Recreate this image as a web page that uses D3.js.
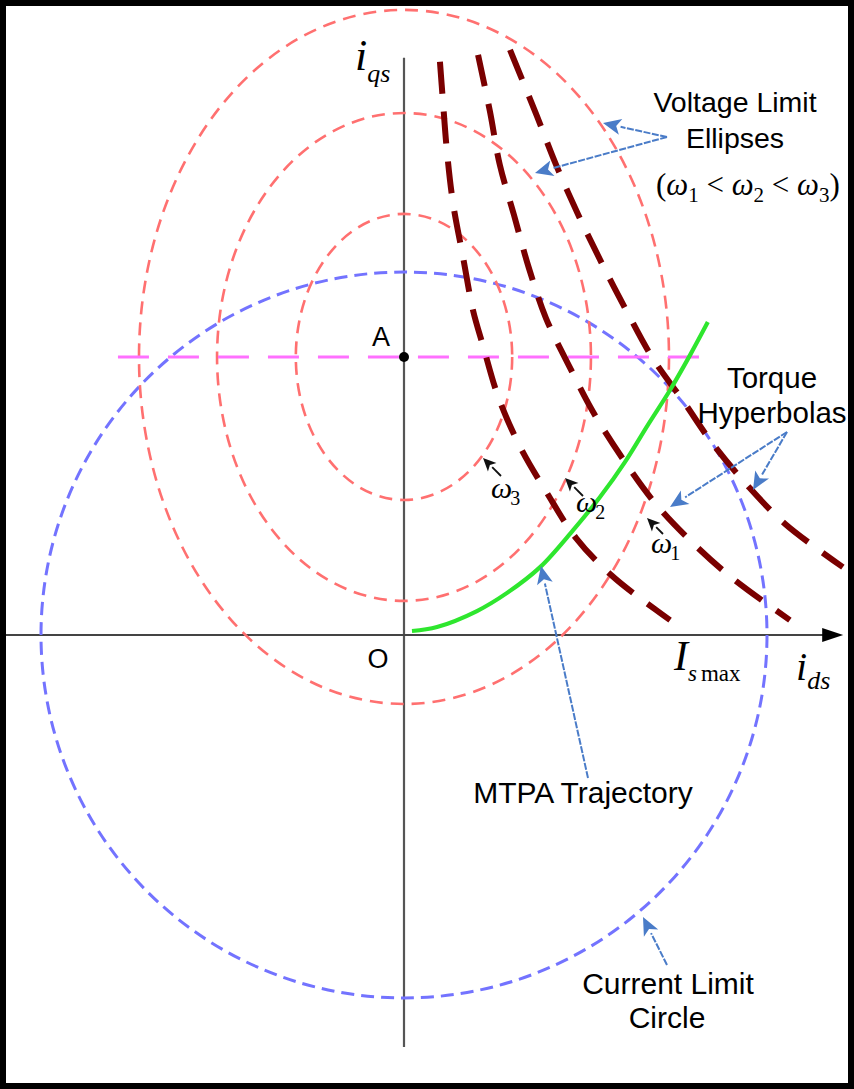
<!DOCTYPE html>
<html><head><meta charset="utf-8">
<script src="https://cdn.jsdelivr.net/npm/d3@7"></script>
<style>body{margin:0;background:#fff}svg{display:block}</style>
</head><body>
<svg id="chart" width="854" height="1089"></svg>
<script>
// Current-vector plane of a PM motor, per-unit (Is_max = 1)
// horizontal: i_ds, vertical: i_qs

const currentLimitRadius = 1.0;

// Voltage limit ellipses, centred on point A, innermost (ω3) to outermost (ω1)
const ellipseCenter = [0, 0.766];
const ellipseSemiD = [0.298, 0.515, 0.730];
const ellipseSemiQ = [0.394, 0.672, 0.956];

// Constant-torque curves (id, iq), low to high torque
const torqueLow = [[0.099,1.579],[0.107,1.474],[0.118,1.336],[0.135,1.190],[0.163,1.039],[0.190,0.895],[0.218,0.796],[0.259,0.658],[0.320,0.518],[0.394,0.391],[0.474,0.267],[0.573,0.163],[0.694,0.069],[0.733,0.041]];
const torqueMid = [[0.204,1.598],[0.237,1.441],[0.264,1.295],[0.303,1.157],[0.344,1.011],[0.391,0.873],[0.455,0.741],[0.521,0.614],[0.603,0.485],[0.691,0.364],[0.793,0.256],[0.904,0.157],[1.063,0.041]];
const torqueHigh = [[0.292,1.612],[0.366,1.430],[0.419,1.295],[0.479,1.160],[0.543,1.028],[0.612,0.895],[0.683,0.766],[0.771,0.642],[0.851,0.526],[0.948,0.410],[1.050,0.306],[1.209,0.187]];

// Maximum torque per ampere trajectory
const mtpaId = [0.022,0.091,0.201,0.284,0.375,0.466,0.540,0.609,0.672,0.733,0.788,0.837];
const mtpaIq = [0.011,0.022,0.066,0.116,0.187,0.289,0.380,0.477,0.579,0.675,0.771,0.862];

// Extent of the dashed line through A
const lineAExtent = [-0.788, 0.837];

// ---- layout ----
const W = 854, H = 1089;
const ox = 404, oy = 635, unit = 363;
const x = d3.scaleLinear().domain([0, 1]).range([ox, ox + unit]);
const y = d3.scaleLinear().domain([0, 1]).range([oy, oy - unit]);

const svg = d3.select("#chart");
const sans = "'Liberation Sans', Arial, sans-serif";
const serif = "'Liberation Serif', 'Times New Roman', serif";

svg.append("rect").attr("width", W).attr("height", H).attr("fill", "#fff");

// axes
svg.append("line")
  .attr("x1", x(0)).attr("x2", x(0))
  .attr("y1", y(1.590)).attr("y2", y(-1.135))
  .attr("stroke", "#555").attr("stroke-width", 2.2);
svg.append("line")
  .attr("x1", x(-1.12)).attr("x2", x(1.158))
  .attr("y1", y(0)).attr("y2", y(0))
  .attr("stroke", "#444").attr("stroke-width", 2.2);
svg.append("path")
  .attr("d", `M${x(1.152)},${y(0) - 7}L${x(1.21)},${y(0)}L${x(1.152)},${y(0) + 7}Z`)
  .attr("fill", "#000");

// current limit circle
svg.append("circle")
  .attr("cx", x(0)).attr("cy", y(0))
  .attr("r", x(currentLimitRadius) - x(0))
  .attr("fill", "none").attr("stroke", "#7373ff")
  .attr("stroke-width", 3).attr("stroke-dasharray", "13,7");

// voltage limit ellipses
svg.selectAll("ellipse.vl").data(ellipseSemiD).join("ellipse")
  .attr("class", "vl")
  .attr("cx", x(ellipseCenter[0])).attr("cy", y(ellipseCenter[1]))
  .attr("rx", d => x(d) - x(0))
  .attr("ry", (d, i) => y(0) - y(ellipseSemiQ[i]))
  .attr("fill", "none").attr("stroke", "#ff7070")
  .attr("stroke-width", 2.6).attr("stroke-dasharray", "13,8");

// horizontal dashed line through A
svg.append("line")
  .attr("x1", x(lineAExtent[0])).attr("x2", x(lineAExtent[1]))
  .attr("y1", y(ellipseCenter[1])).attr("y2", y(ellipseCenter[1]))
  .attr("stroke", "#ff70ff").attr("stroke-width", 3)
  .attr("stroke-dasharray", "31,19");

// torque hyperbolas
const curve = d3.line().x(d => x(d[0])).y(d => y(d[1])).curve(d3.curveCatmullRom);
svg.selectAll("path.tq").data([torqueLow, torqueMid, torqueHigh]).join("path")
  .attr("class", "tq")
  .attr("d", curve)
  .attr("fill", "none").attr("stroke", "#7a0000")
  .attr("stroke-width", 6).attr("stroke-dasharray", "32,18");

// MTPA trajectory
const mtpa = mtpaId.map((d, i) => [d, mtpaIq[i]]);
svg.append("path")
  .attr("d", curve(mtpa))
  .attr("fill", "none").attr("stroke", "#2ee62e")
  .attr("stroke-width", 4.2);

// point A
svg.append("circle")
  .attr("cx", x(ellipseCenter[0])).attr("cy", y(ellipseCenter[1]))
  .attr("r", 5).attr("fill", "#000");

// annotation arrows
function arrow(x1, y1, x2, y2, color, len, half, width, dash) {
  const a = Math.atan2(y2 - y1, x2 - x1);
  const bx = x2 - len * Math.cos(a), by = y2 - len * Math.sin(a);
  svg.append("line")
    .attr("x1", x1).attr("y1", y1).attr("x2", bx).attr("y2", by)
    .attr("stroke", color).attr("stroke-width", width)
    .attr("stroke-dasharray", dash || null);
  const px = -Math.sin(a) * half, py = Math.cos(a) * half;
  svg.append("path")
    .attr("d", `M${x2},${y2}L${bx + px},${by + py}L${bx + len * 0.25 * Math.cos(a)},${by + len * 0.25 * Math.sin(a)}L${bx - px},${by - py}Z`)
    .attr("fill", color);
}
const blue = "#4a7cc8";
arrow(667, 137, 603, 123, blue, 18, 8, 2, "7,1.5");
arrow(667, 137, 535, 173, blue, 18, 8, 2, "7,1.5");
arrow(787, 432, 670, 507, blue, 18, 8, 2, "7,1.5");
arrow(787, 432, 753, 490, blue, 18, 8, 2, "7,1.5");
arrow(588, 778, 541, 566, blue, 18, 8, 2, "7,1.5");
arrow(667, 965, 643, 917, blue, 18, 8, 2, "7,1.5");
arrow(501, 476, 483, 458, "#111", 13, 6, 1.8);
arrow(583, 496, 565, 478, "#111", 13, 6, 1.8);
arrow(663, 534, 647, 518, "#111", 13, 6, 1.8);

// text helpers
function label(tx, ty, str, size, anchor) {
  svg.append("text").attr("x", tx).attr("y", ty)
    .attr("font-family", sans).attr("font-size", size)
    .attr("text-anchor", anchor || "middle").attr("fill", "#000").text(str);
}
label(735, 112, "Voltage Limit", 28.5);
label(735, 148, "Ellipses", 28.5);
label(772, 388, "Torque", 29.5);
label(772, 423, "Hyperbolas", 29.5);
label(583, 803, "MTPA Trajectory", 30);
label(668, 994, "Current Limit", 30);
label(667, 1028, "Circle", 30);
label(378, 668, "O", 27);
label(381, 346, "A", 27);

// (ω1 < ω2 < ω3)
const wt = svg.append("text").attr("x", 656).attr("y", 195)
  .attr("font-family", serif).attr("font-size", 31).attr("fill", "#000");
wt.append("tspan").text("(");
[["1", " < "], ["2", " < "], ["3", ")"]].forEach(([s, tail]) => {
  wt.append("tspan").attr("font-style", "italic").text("ω");
  wt.append("tspan").attr("font-size", 21).attr("dy", 7).text(s);
  wt.append("tspan").attr("dy", -7).text(tail);
});

// speed tags beside the ellipses
function omega(tx, ty, s) {
  const t = svg.append("text").attr("x", tx).attr("y", ty)
    .attr("font-family", serif).attr("font-size", 30).attr("fill", "#000");
  t.append("tspan").attr("font-style", "italic").text("ω");
  t.append("tspan").attr("font-size", 20).attr("dy", 7).attr("dx", -2).text(s);
}
omega(491, 498, "3");
omega(576, 512, "2");
omega(651, 553, "1");

// axis names
const iq = svg.append("text").attr("x", 355).attr("y", 70)
  .attr("font-family", serif).attr("font-style", "italic").attr("fill", "#000");
iq.append("tspan").attr("font-size", 44).text("i");
iq.append("tspan").attr("font-size", 26).attr("dy", 12).text("qs");

const idl = svg.append("text").attr("x", 796).attr("y", 680)
  .attr("font-family", serif).attr("font-style", "italic").attr("fill", "#000");
idl.append("tspan").attr("font-size", 40).text("i");
idl.append("tspan").attr("font-size", 26).attr("dy", 9).text("ds");

const ism = svg.append("text").attr("x", 674).attr("y", 670)
  .attr("font-family", serif).attr("fill", "#000");
ism.append("tspan").attr("font-size", 42).attr("font-style", "italic").text("I");
ism.append("tspan").attr("font-size", 23).attr("font-style", "italic").attr("dy", 11).text("s");
ism.append("tspan").attr("font-size", 23).attr("dx", 4).text("max");

// frame
svg.append("rect").attr("x", 3).attr("y", 3).attr("width", W - 6).attr("height", H - 6)
  .attr("fill", "none").attr("stroke", "#000").attr("stroke-width", 6);
</script>
</body></html>
